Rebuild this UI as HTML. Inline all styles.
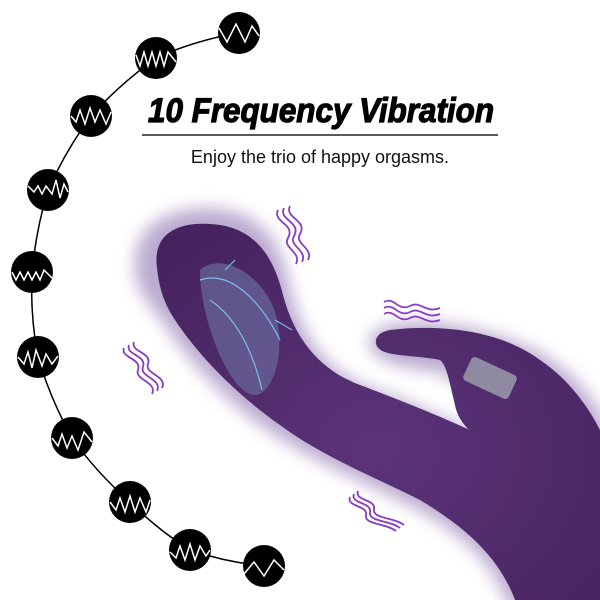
<!DOCTYPE html><html><head><style>body{margin:0;background:#fff}svg{display:block}</style></head><body>
<svg width="600" height="600" viewBox="0 0 600 600" xmlns="http://www.w3.org/2000/svg">
<defs>
<filter id="b" x="-30%" y="-30%" width="160%" height="160%"><feGaussianBlur stdDeviation="8"/></filter>
<radialGradient id="g" cx="0.5" cy="0.6" r="0.7"><stop offset="0" stop-color="#5b3479"/><stop offset="1" stop-color="#46235f"/></radialGradient>
</defs>
<path d="M264,566 Q225,562 190,550 Q158,530 130,502 Q96,472 72,438 Q50,398 38,357 Q30,315 32,272 Q36,230 48,190 Q66,150 91,116 Q120,84 156,58 Q196,40 239,33" fill="none" stroke="#000" stroke-width="1.5"/>
<g fill="#000">
<circle cx="239" cy="33" r="21"/><circle cx="156" cy="58" r="21"/><circle cx="91" cy="116" r="21"/><circle cx="48" cy="190" r="21"/><circle cx="32" cy="272" r="21"/><circle cx="38" cy="357" r="21"/><circle cx="72" cy="438" r="21"/><circle cx="130" cy="502" r="21"/><circle cx="190" cy="550" r="21"/><circle cx="264" cy="566" r="21"/>
</g>
<g fill="none" stroke="#fff" stroke-width="1.5">
<polyline points="219,28 227,42 236,24 245,42 252,26 259,36"/>
<polyline points="136,55 140,66 144,52 148,66 152,52 156,66 160,52 164,66 168,52 176,62"/>
<polyline points="71,116 76,122 80,110 85,124 90,108 95,122 100,110 106,124 111,112"/>
<polyline points="28,186 34,192 38,186 42,194 46,186 52,194 56,180 60,198 64,184 68,192"/>
<polyline points="12,272 16,280 20,272 24,280 28,272 32,280 36,272 40,280 44,270 52,278"/>
<polyline points="18,357 24,364 28,352 32,368 36,350 42,366 46,354 52,364 58,356"/>
<polyline points="52,438 58,446 62,434 67,448 72,436 78,450 84,432 92,442"/>
<polyline points="110,502 116,510 120,498 125,512 130,496 135,512 140,498 146,512 150,500"/>
<polyline points="170,552 176,558 180,546 185,560 190,544 195,560 200,546 206,556 210,550"/>
<polyline points="244,574 254,562 264,576 274,560 284,570"/>
</g>
<text x="321" y="122" text-anchor="middle" font-family="Liberation Sans Narrow, Liberation Sans, sans-serif" font-weight="bold" font-style="italic" font-size="34" stroke="#000" stroke-width="1.2" textLength="346" lengthAdjust="spacingAndGlyphs">10 Frequency Vibration</text>
<line x1="142" y1="135" x2="498" y2="135" stroke="#222" stroke-width="1.5"/>
<text x="320" y="163" text-anchor="middle" font-family="Liberation Sans, sans-serif" font-size="18" fill="#111">Enjoy the trio of happy orgasms.</text>
<g>
<path d="M135,270 C130,215 190,200 235,212 C285,228 285,275 295,305 C308,345 330,372 370,388 C410,402 450,420 480,435 C490,410 460,385 440,372 C400,368 365,360 370,338 C380,315 460,315 535,350 C580,375 605,410 610,440 L610,610 L510,610 C495,565 465,535 415,508 C365,482 315,462 270,432 C220,398 185,355 165,325 C145,300 135,285 135,270 Z" fill="#a48fc0" opacity="0.75" filter="url(#b)"/>
<path d="M157,268 C152,232 180,222 210,224 C250,226 272,250 283,295 C295,340 320,370 360,385 C400,400 450,420 480,435 C495,445 505,455 512,462 C490,445 460,432 455,405 C450,385 447,365 440,360 C420,356 395,356 385,352 C372,348 372,333 390,330 C440,324 500,330 540,360 C570,380 590,410 600,430 L600,600 L515,600 C500,560 470,530 420,500 C370,475 320,455 280,425 C230,390 195,350 175,320 C162,300 159,285 157,268 Z" fill="url(#g)"/>
<path d="M200,270 C215,255 250,265 270,300 C290,340 275,395 255,395 C230,395 200,320 200,270 Z" fill="#6a6a9a" opacity="0.7"/>
<g fill="none" stroke="#7fc8ff" stroke-width="1.2" opacity="0.9">
<path d="M200,280 C230,270 260,300 280,340 M210,300 C240,320 255,360 262,390 M225,270 L235,260 M275,320 L292,330"/>
</g>
<rect x="465" y="365" width="50" height="26" rx="4" fill="#9a9aac" transform="rotate(25 490 378)" opacity="0.85"/>
</g>
<g fill="none" stroke="#8a3cc4" stroke-width="1.8">
<path d="M278,210 c-6,12 18,14 10,28 c-6,10 14,14 8,26"/><path d="M284,208 c-6,12 18,14 10,28 c-6,10 14,14 8,26"/><path d="M290,206 c-6,12 18,14 10,28 c-6,10 14,14 8,26"/>
<path d="M124,348 c-4,10 18,10 14,22 c-4,10 20,12 14,24"/><path d="M129,345 c-4,10 18,10 14,22 c-4,10 20,12 14,24"/><path d="M134,342 c-4,10 18,10 14,22 c-4,10 20,12 14,24"/>
<path d="M384,302 c10,-6 14,10 26,4 c10,-6 16,8 30,2"/><path d="M384,308 c10,-6 14,10 26,4 c10,-6 16,8 30,2"/><path d="M384,314 c10,-6 14,10 26,4 c10,-6 16,8 30,2"/>
<path d="M350,497 c-4,10 18,8 16,18 c-2,10 20,8 30,16"/><path d="M354,494 c-4,10 18,8 16,18 c-2,10 20,8 30,16"/><path d="M358,491 c-4,10 18,8 16,18 c-2,10 20,8 30,16"/>
</g>
</svg>
</body></html>
